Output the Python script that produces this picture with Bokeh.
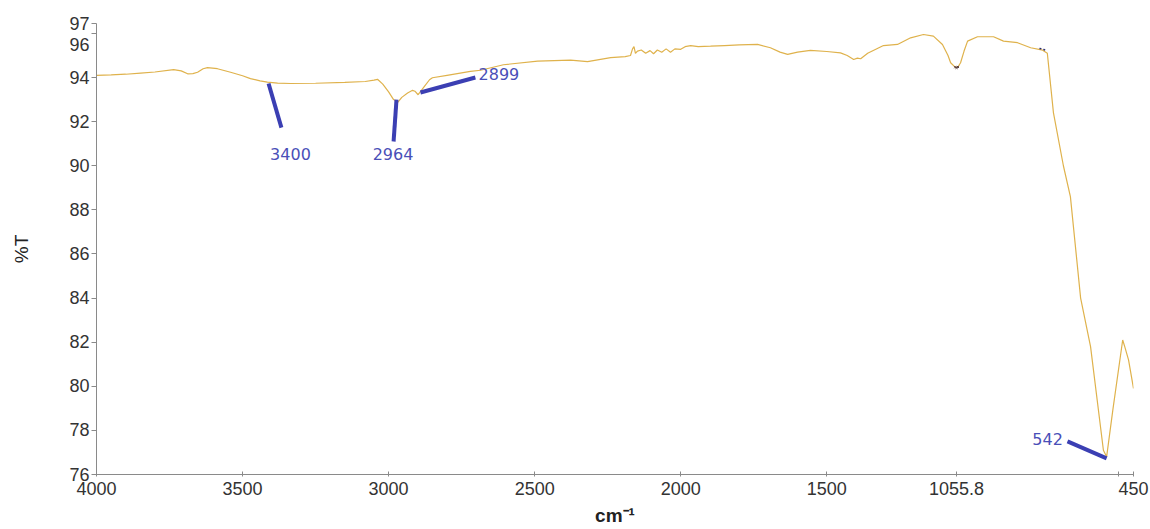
from bokeh.plotting import figure
from bokeh.models import Range1d, FixedTicker, ColumnDataSource, Label
from bokeh.embed import file_html
from bokeh.resources import INLINE

# ---- spectrum (wavenumber cm-1, %T) ----
wavenumber = [4000, 3950, 3900, 3849, 3800, 3736, 3710, 3688, 3670, 3654, 3635, 3620, 3586, 3541,
              3500, 3473, 3440, 3415, 3380, 3336, 3250, 3150, 3080, 3050, 3038, 3020, 3000, 2983,
              2968, 2955, 2935, 2918, 2910, 2899, 2880, 2860, 2850, 2800, 2720, 2685, 2607, 2490,
              2377, 2319, 2240, 2190, 2172, 2165, 2160, 2155, 2148, 2135, 2120, 2105, 2093, 2080,
              2065, 2050, 2035, 2020, 2000, 1985, 1966, 1940, 1898, 1850, 1800, 1737, 1693, 1660,
              1634, 1600, 1556, 1500, 1453, 1430, 1408, 1395, 1384, 1360, 1306, 1258, 1213, 1169,
              1135, 1104, 1085, 1076, 1059, 1050, 1042, 1030, 1018, 984, 929, 895, 847, 802, 761,
              745, 724, 690, 666, 631, 597, 553, 542, 520, 487, 480, 467, 450]
transmittance = [94.10, 94.12, 94.15, 94.20, 94.25, 94.36, 94.30, 94.17, 94.18, 94.24, 94.40, 94.45,
                 94.40, 94.24, 94.08, 93.95, 93.85, 93.79, 93.75, 93.73, 93.74, 93.78, 93.82, 93.88,
                 93.92, 93.70, 93.35, 93.00, 92.88, 93.10, 93.30, 93.42, 93.38, 93.22, 93.55, 93.90,
                 93.99, 94.10, 94.28, 94.33, 94.58, 94.74, 94.79, 94.72, 94.90, 94.95, 95.00, 95.30,
                 95.40, 95.10, 95.20, 95.25, 95.10, 95.22, 95.08, 95.25, 95.15, 95.30, 95.15, 95.30,
                 95.28, 95.40, 95.45, 95.40, 95.42, 95.45, 95.48, 95.50, 95.35, 95.15, 95.05, 95.15,
                 95.23, 95.18, 95.12, 95.00, 94.82, 94.88, 94.85, 95.10, 95.45, 95.50, 95.80, 95.95,
                 95.88, 95.50, 95.00, 94.67, 94.45, 94.50, 94.67, 95.20, 95.65, 95.85, 95.85, 95.65,
                 95.58, 95.35, 95.24, 95.10, 92.40, 90.00, 88.60, 84.00, 81.80, 77.10, 76.80, 79.00,
                 82.10, 81.80, 81.20, 79.90]

# ---- peak annotations ----
peak_labels = ["3400", "2964", "2899", "542"]
peak_line_x0 = [3411, 2973, 2891, 676]
peak_line_y0 = [93.73, 93.00, 93.32, 77.50]
peak_line_x1 = [3367, 2983, 2703, 542]
peak_line_y1 = [91.73, 91.10, 94.00, 76.73]
peak_text_x = [3336, 2985, 2692, 744]
peak_text_y = [90.55, 90.55, 94.14, 77.60]
peak_text_align = ["center", "center", "left", "center"]

# small dark marker traces on the curve
mark_x = [772, 765, 757, 748]
mark_y = [95.32, 95.30, 95.27, 95.22]
mark2_x = [1060, 1055.8, 1051]
mark2_y = [94.47, 94.44, 94.48]

# ---- axes ----
x_ticks = [4000, 3500, 3000, 2500, 2000, 1500, 1055.8, 500, 450]
x_tick_labels = ["4000", "3500", "3000", "2500", "2000", "1500", "1055.8", "", "450"]
y_ticks = [76, 78, 80, 82, 84, 86, 88, 90, 92, 94, 96, 96.45]
y_tick_labels = ["76", "78", "80", "82", "84", "86", "88", "90", "92", "94", "\n96", "97"]

W, H = 1150, 529
p = figure(width=W, height=H, output_backend="svg", toolbar_location=None,
           x_range=Range1d(4000, 450), y_range=Range1d(76, 96.45),
           min_border_left=96, min_border_top=23, min_border_right=W - 1133,
           min_border_bottom=H - 474)
p.outline_line_color = None
p.xgrid.visible = False
p.ygrid.visible = False
p.background_fill_color = "white"
p.border_fill_color = "white"

p.line(wavenumber, transmittance, line_color="#dfb24c", line_width=1.2)
p.line(mark_x, mark_y, line_color="#2c2c70", line_width=1.5, line_dash="2 2")
p.scatter(mark2_x, mark2_y, marker="x", size=3, line_color="#5a4040", line_width=1)

src = ColumnDataSource(dict(x0=peak_line_x0, y0=peak_line_y0, x1=peak_line_x1, y1=peak_line_y1))
p.segment(x0="x0", y0="y0", x1="x1", y1="y1", source=src, line_color="#3b3fb3", line_width=4)

for t, x, y, a in zip(peak_labels, peak_text_x, peak_text_y, peak_text_align):
    p.add_layout(Label(x=x, y=y, text=t, text_align=a, text_baseline="middle",
                       text_font="DejaVu Sans", text_font_size="16px", text_color="#4a4fb8"))

for ax in (p.xaxis[0], p.yaxis[0]):
    ax.axis_line_color = "#8a8a8a"
    ax.major_tick_line_color = "#8a8a8a"
    ax.minor_tick_line_color = None
    ax.major_label_text_font = "Liberation Sans"
    ax.major_label_text_font_size = "18px"
    ax.major_label_text_color = "#333333"
    ax.axis_label_text_font = "Liberation Sans"
    ax.axis_label_text_color = "#222222"

p.xaxis.ticker = FixedTicker(ticks=x_ticks)
p.xaxis.major_label_overrides = dict(zip(x_ticks, x_tick_labels))
p.xaxis.major_tick_in = 3
p.xaxis.major_tick_out = 2
p.xaxis.major_label_standoff = 5
p.xaxis.axis_label = "cm⁻¹"
p.xaxis.axis_label_text_font_style = "bold"
p.xaxis.axis_label_text_font_size = "19px"
p.xaxis.axis_label_standoff = 7

p.yaxis.ticker = FixedTicker(ticks=y_ticks)
p.yaxis.major_label_overrides = dict(zip(y_ticks, y_tick_labels))
p.yaxis.major_tick_in = 0
p.yaxis.major_tick_out = 5
p.yaxis.major_label_standoff = 2
p.yaxis.axis_label = "%T"
p.yaxis.axis_label_text_font_style = "normal"
p.yaxis.axis_label_text_font_size = "19px"
p.yaxis.axis_label_standoff = 34

open("out.html", "w").write(file_html(p, INLINE))
